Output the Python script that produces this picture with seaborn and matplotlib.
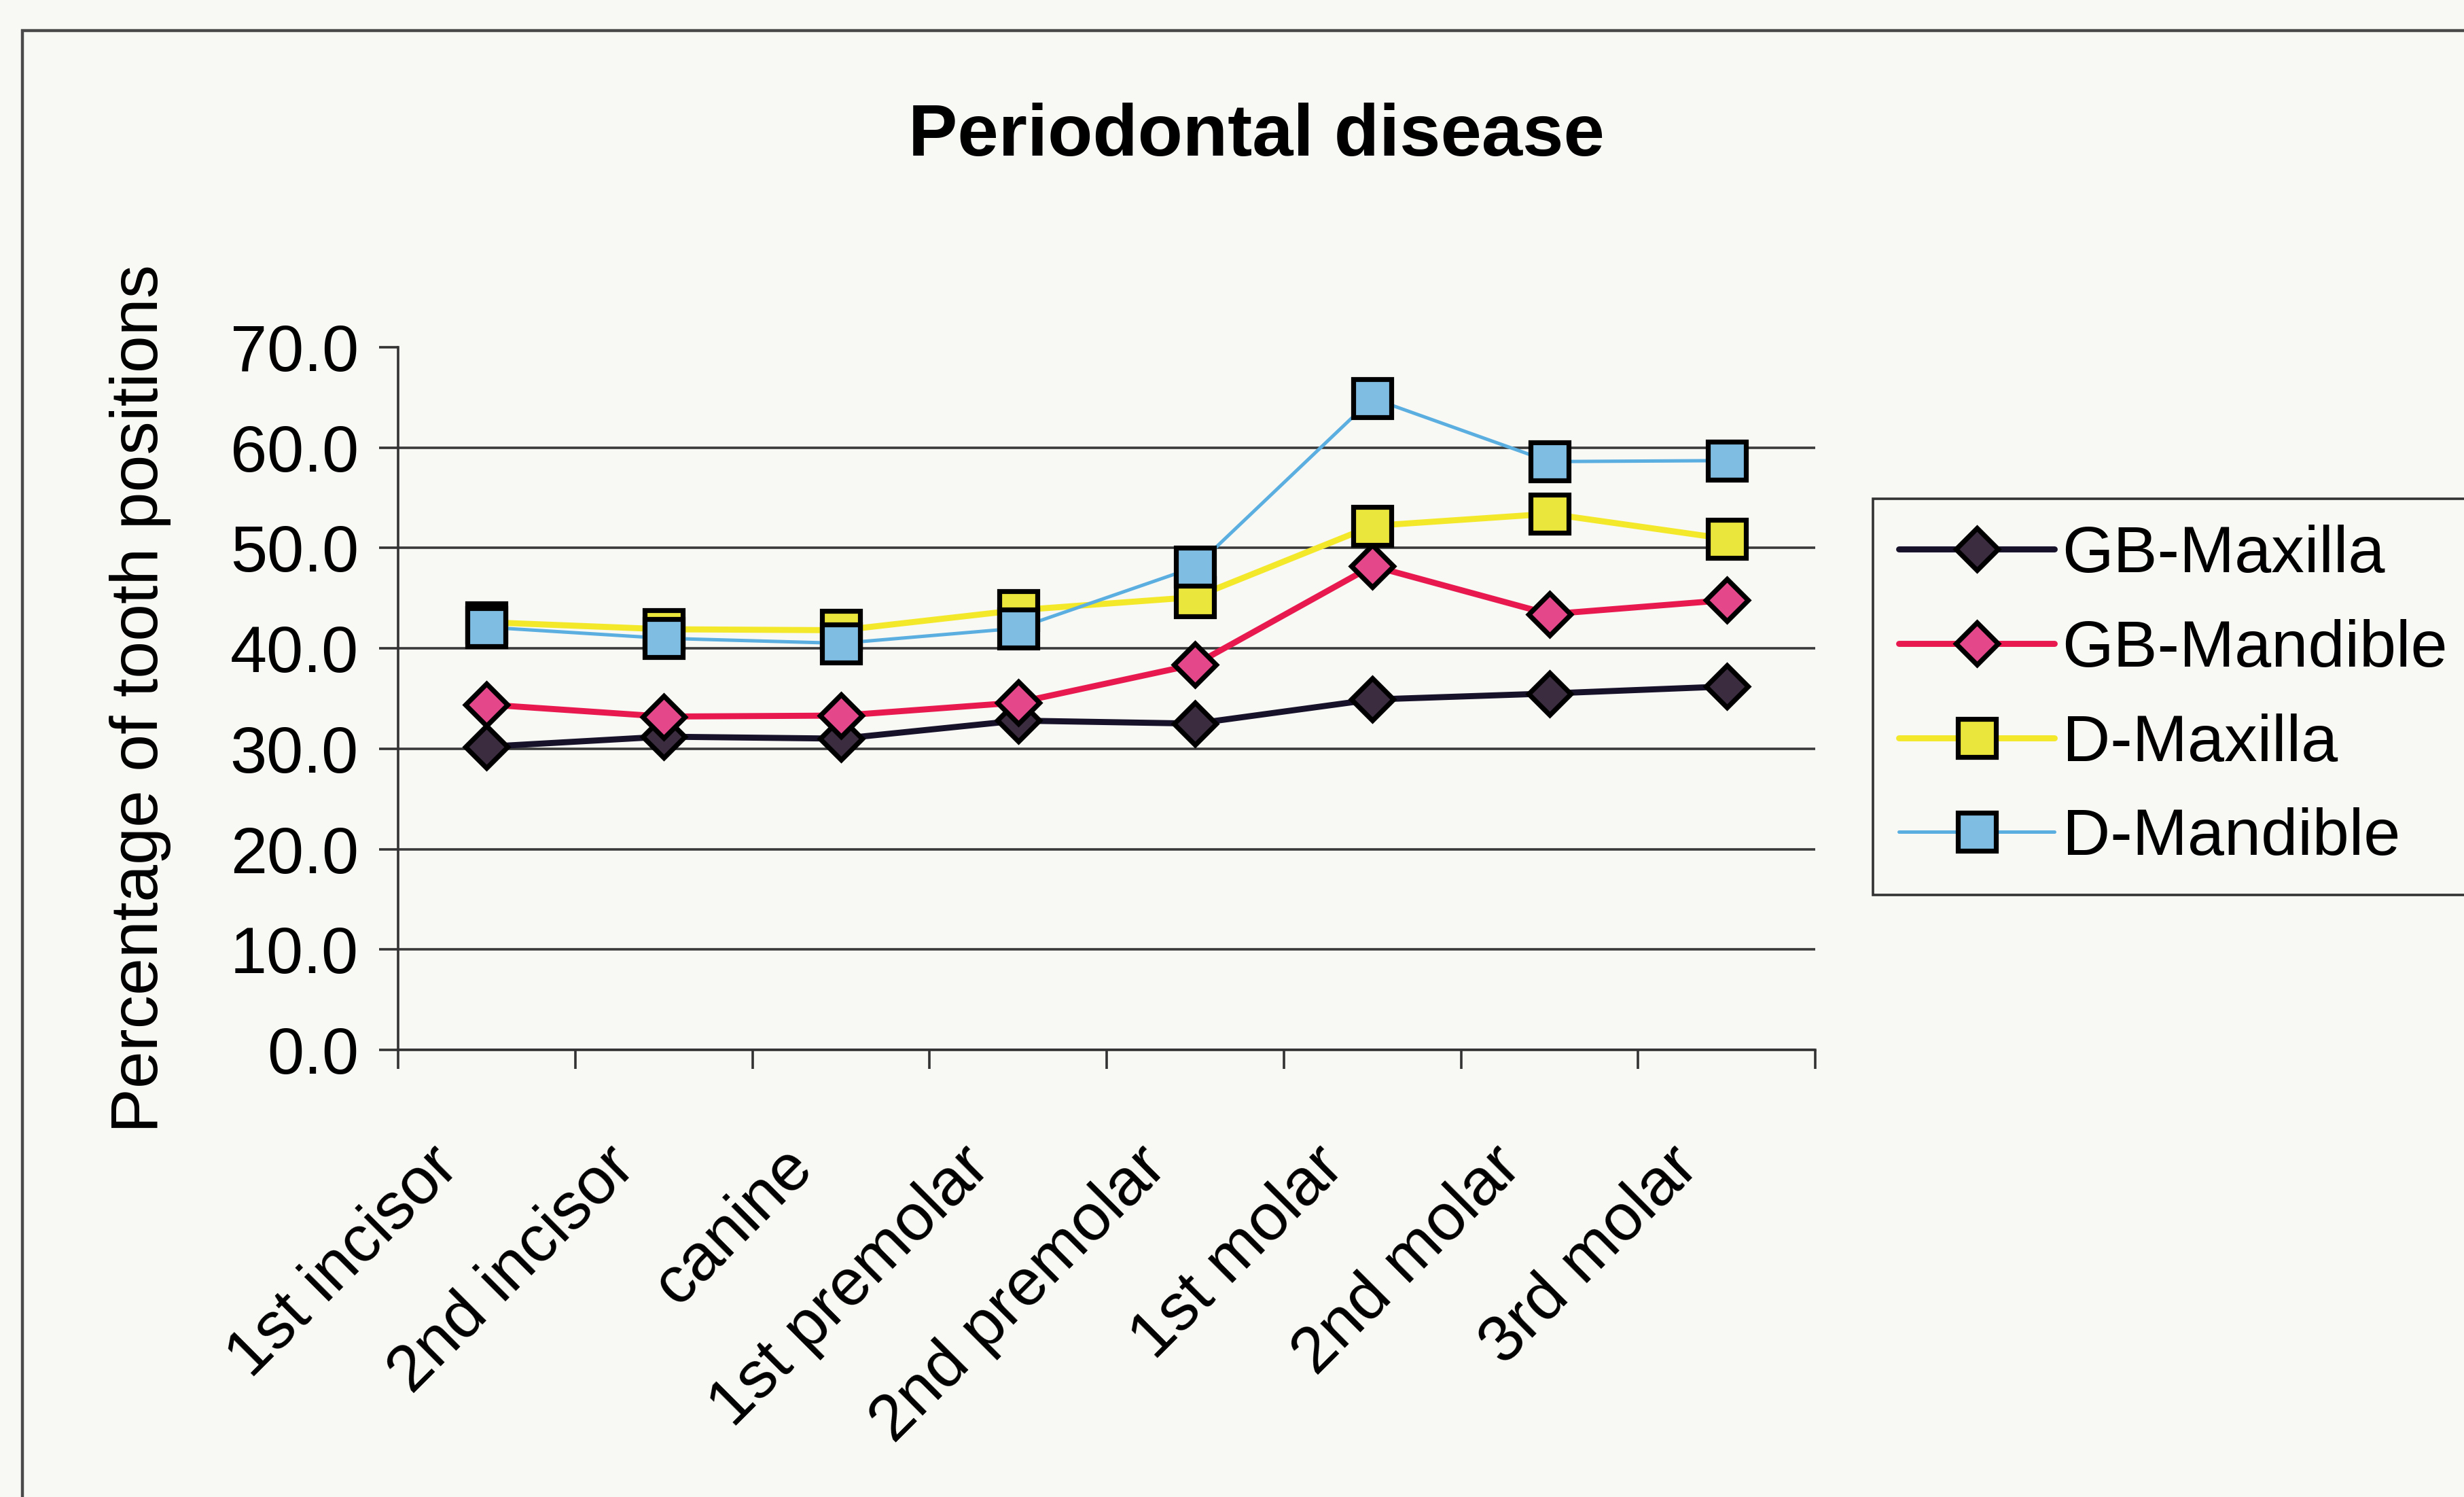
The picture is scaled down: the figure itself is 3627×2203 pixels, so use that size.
import matplotlib
matplotlib.use('Agg')
import matplotlib.pyplot as plt
import matplotlib.transforms as mtransforms
import seaborn as sns
import pandas as pd
from matplotlib.patches import Rectangle
from matplotlib.ticker import FormatStrFormatter

# data
teeth = ['1st incisor', '2nd incisor', 'canine', '1st premolar',
         '2nd premolar', '1st molar', '2nd molar', '3rd molar']
gb_maxilla = [30.2, 31.2, 31.0, 32.8, 32.5, 34.9, 35.5, 36.2]
gb_mandible = [34.4, 33.2, 33.3, 34.6, 38.4, 48.2, 43.4, 44.8]
d_maxilla = [42.6, 41.9, 41.8, 43.8, 45.1, 52.2, 53.4, 50.9]
d_mandible = [42.1, 41.0, 40.5, 42.0, 48.1, 64.9, 58.6, 58.7]
series_names = ['GB-Maxilla', 'GB-Mandible', 'D-Maxilla', 'D-Mandible']
yticks = [0, 10, 20, 30, 40, 50, 60, 70]

df = pd.DataFrame({'tooth': teeth * 4,
                   'pct': gb_maxilla + gb_mandible + d_maxilla + d_mandible,
                   'series': [s for s in series_names for _ in teeth]})

# line colour, marker face, marker, marker size, line width
styles = {
    'GB-Maxilla':  ('#17112a', '#3b2c40', 'D', 16, 3.2),
    'GB-Mandible': ('#e8194e', '#e4478a', 'D', 16, 3.2),
    'D-Maxilla':   ('#f3e92a', '#ebe63c', 's', 20.5, 3.2),
    'D-Mandible':  ('#5aaee0', '#7fbde2', 's', 20.5, 1.8),
}

bg = '#f8f8f4'
fs = 35
sns.set_style('white')
plt.rcParams['font.family'] = ['Liberation Sans', 'DejaVu Sans']
plt.rcParams['text.color'] = 'black'
plt.rcParams['xtick.color'] = 'black'
plt.rcParams['ytick.color'] = 'black'
plt.rcParams['axes.labelcolor'] = 'black'

fig = plt.figure(figsize=(18.135, 11.015), dpi=200, facecolor=bg)
ax = fig.add_axes([0.1616, 0.2987, 0.5751, 0.4694])
ax.set_facecolor(bg)

for name in series_names:
    lc, fc, mk, ms, lw = styles[name]
    sub = df[df['series'] == name]
    sns.lineplot(data=sub, x='tooth', y='pct', ax=ax, sort=False,
                 color=lc, lw=lw, marker=mk, ms=ms, markerfacecolor=fc,
                 markeredgecolor='black', markeredgewidth=2.6, label=name)

n = len(teeth)
ax.set_xlim(-0.5, n - 0.5)
ax.set_ylim(yticks[0], yticks[-1])
ax.set_yticks(yticks)
ax.yaxis.set_major_formatter(FormatStrFormatter('%.1f'))
ax.set_xticks([i - 0.5 for i in range(n + 1)])
ax.set_xticklabels([])
ax.set_xticks(range(n), minor=True)
ax.set_xticklabels(teeth, minor=True)

ax.grid(axis='y', color='#3a3a3a', lw=1.3)
ax.yaxis.get_gridlines()[-1].set_visible(False)
ax.set_axisbelow(True)

for s in ['top', 'right']:
    ax.spines[s].set_visible(False)
for s in ['left', 'bottom']:
    ax.spines[s].set_color('#333333')
    ax.spines[s].set_linewidth(1.3)

ax.tick_params(axis='y', which='major', direction='out', length=10, width=1.3,
               color='#333333', pad=11, labelsize=fs, left=True)
ax.tick_params(axis='x', which='major', direction='out', length=10, width=1.3,
               color='#333333', bottom=True)
ax.tick_params(axis='x', which='minor', length=0, pad=57, labelsize=fs,
               labelrotation=45)
shift = mtransforms.ScaledTranslation(-0.28, 0, fig.dpi_scale_trans)
for lbl in ax.get_xticklabels(minor=True):
    lbl.set_ha('right')
    lbl.set_va('center')
    lbl.set_rotation_mode('anchor')
    lbl.set_transform(lbl.get_transform() + shift)

ax.set_xlabel('')
ax.set_ylabel('Percentage of tooth positions', fontsize=fs + 0.5)
ax.yaxis.set_label_coords(-0.160, 0.5)

fig.text(0.51, 0.896, 'Periodontal disease', ha='center', va='baseline',
         fontsize=39, fontweight='bold')

leg = ax.legend(loc='upper left', bbox_to_anchor=(0.760, 0.667),
                bbox_transform=fig.transFigure, borderaxespad=0,
                fontsize=fs, handlelength=2.35, handletextpad=0.12,
                labelspacing=0.5, borderpad=0.4, fancybox=False,
                framealpha=1, facecolor=bg, edgecolor='#333333')
leg.get_frame().set_linewidth(1.3)

# outer chart border (runs off the right and bottom of the scan)
fig.patches.append(Rectangle((0.0091, -0.05), 1.2, 1.0296, fill=False,
                             edgecolor='#4a4a4a', lw=1.6,
                             transform=fig.transFigure, figure=fig))

fig.savefig('out.png', dpi=200, facecolor=bg)
